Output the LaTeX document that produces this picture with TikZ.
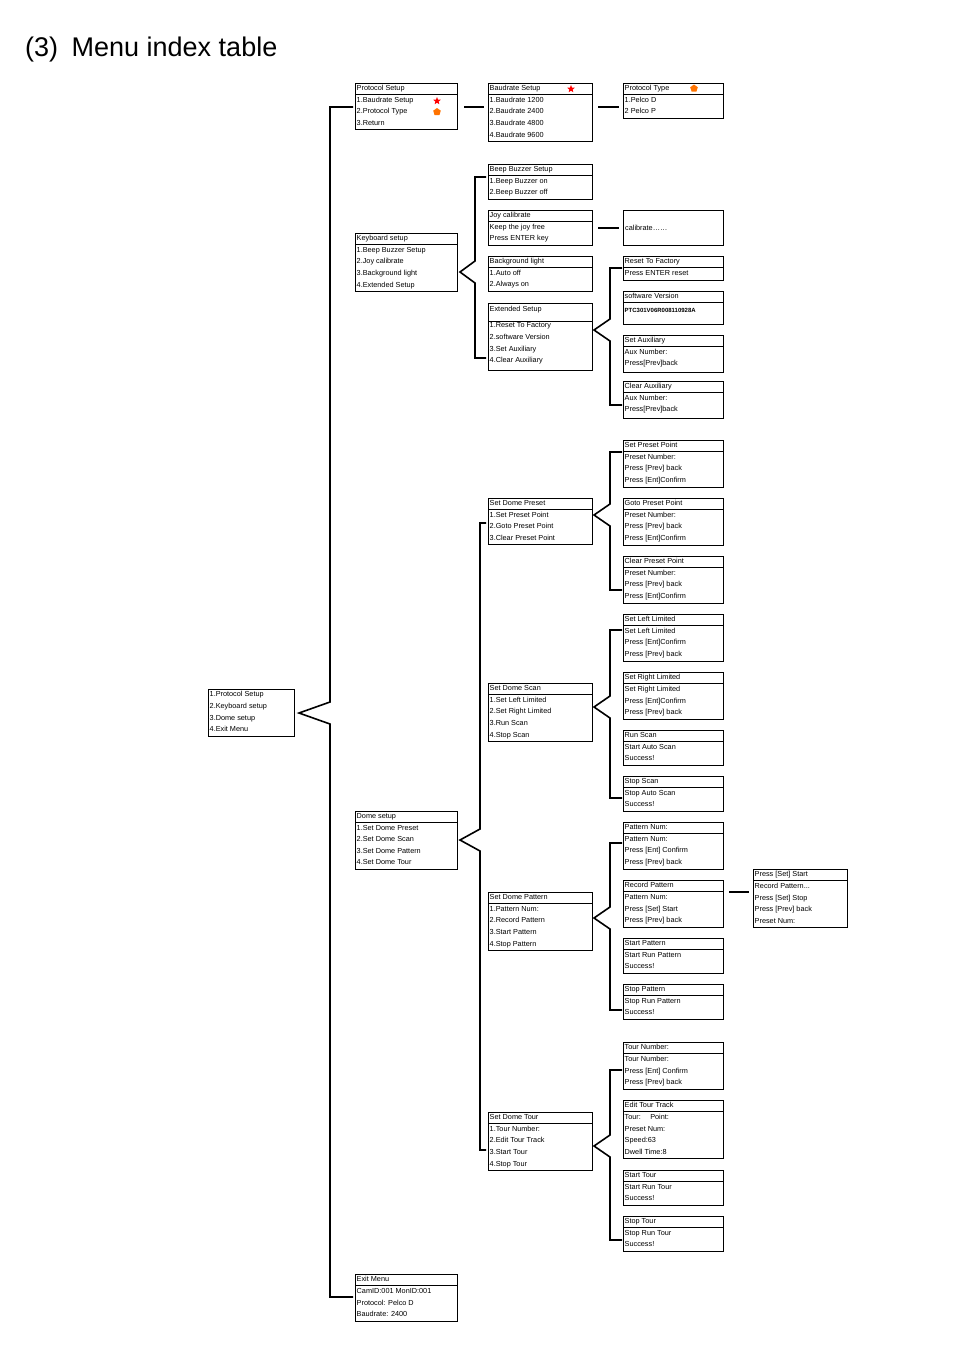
\documentclass[tikz,border=0pt]{standalone}
\usepackage{fontspec}
\setmainfont{Liberation Sans}
\usetikzlibrary{shapes.geometric}
\tikzset{
 boxs/.style={draw,line width=1.2pt,inner sep=0pt},
 txt/.style={inner sep=0pt,align=left,font=\fontsize{7.3}{11.6}\selectfont},
 brk/.style={line width=1.6pt},
 linkline/.style={line width=1.6pt},
 stb/.style={star,star points=5,star point ratio=2.3,fill=red,draw=none,inner sep=0pt,minimum size=8pt},
 pent/.style={regular polygon,regular polygon sides=5,fill=orange!90!red,draw=none,inner sep=0pt,minimum size=8pt}
}
\newcommand\mb[7]{%
 \node[boxs,minimum width=#4pt,minimum height=#5pt,anchor=north west] (#1) at (#2,#3) {};
 \ifnum#6>0 \draw[line width=1pt] (#2,#3+#6) -- ++(#4,0);\fi
 \node[txt,anchor=north west] (#1t) at (#2+1.5,#3+2.3) {#7};}
\newcommand\bk[6]{% xv ytop ybot xtip ymid xend
 \draw[brk] (#6,#2) -- (#1,#2) -- (#1,#5-11) -- (#4,#5) -- (#1,#5+11) -- (#1,#3) -- (#6,#3);}
\begin{document}
\begin{tikzpicture}[x=1pt,y=-1pt]
\useasboundingbox (0,0) rectangle (954,1350);
\node[anchor=west,font=\fontsize{27}{30}\selectfont,inner sep=0] (title) at (25,50) {(3)\enspace Menu index table};

\mb{root}{208}{689}{86}{47}{0}{1.Protocol Setup\\2.Keyboard setup\\3.Dome setup\\4.Exit Menu}
\mb{ps}{355}{83}{102}{46}{11}{Protocol Setup\\1.Baudrate Setup\\2.Protocol Type\\3.Return}
\mb{bs}{488}{83}{104}{58}{11}{Baudrate Setup\\1.Baudrate 1200\\2.Baudrate 2400\\3.Baudrate 4800\\4.Baudrate 9600}
\mb{pt}{623}{83}{100}{35}{11}{Protocol Type\\1.Pelco D\\2 Pelco P}
\node[stb] (s1) at (437,101) {};
\node[pent] (p1) at (437,112) {};
\node[stb] (s2) at (571,89) {};
\node[pent] (p2) at (694,88.5) {};

\mb{kb}{355}{233}{102}{58}{11}{Keyboard setup\\1.Beep Buzzer Setup\\2.Joy calibrate\\3.Background light\\4.Extended Setup}
\mb{bb}{488}{164}{104}{35}{11}{Beep Buzzer Setup\\1.Beep Buzzer on\\2.Beep Buzzer off}
\mb{jc}{488}{210}{104}{35}{11}{Joy calibrate\\Keep the joy free\\Press ENTER key}
\mb{cal}{623}{210}{100}{35}{0}{}
\node[txt,anchor=west] (calt) at (625,228) {calibrate\ldots\ldots};
\mb{bl}{488}{256}{104}{35}{11}{Background light\\1.Auto off\\2.Always on}
\mb{es}{488}{303}{104}{67}{18}{\\[-5.8pt]Extended Setup\\[5pt]1.Reset To Factory\\2.software Version\\3.Set Auxiliary\\4.Clear Auxiliary}
\mb{rf}{623}{256}{100}{24}{11}{Reset To Factory\\Press ENTER reset}
\mb{sv}{623}{291}{100}{33}{11}{software Version\\[2pt]{\bfseries\fontsize{6}{8}\selectfont PTC301V06R008110928A}}
\mb{sa}{623}{335}{100}{37}{11}{Set Auxiliary\\Aux Number:\\Press[Prev]back}
\mb{ca}{623}{381}{100}{37}{11}{Clear Auxiliary\\Aux Number:\\Press[Prev]back}

\mb{dp}{488}{498}{104}{46}{11}{Set Dome Preset\\1.Set Preset Point\\2.Goto Preset Point\\3.Clear Preset Point}
\mb{spp}{623}{440}{100}{47}{11}{Set Preset Point\\Preset Number:\\Press [Prev] back\\Press [Ent]Confirm}
\mb{gpp}{623}{498}{100}{47}{11}{Goto Preset Point\\Preset Number:\\Press [Prev] back\\Press [Ent]Confirm}
\mb{cpp}{623}{556}{100}{47}{11}{Clear Preset Point\\Preset Number:\\Press [Prev] back\\Press [Ent]Confirm}

\mb{dsc}{488}{683}{104}{58}{11}{Set Dome Scan\\1.Set Left Limited\\2.Set Right Limited\\3.Run Scan\\4.Stop Scan}
\mb{sll}{623}{614}{100}{47}{11}{Set Left Limited\\Set Left Limited\\Press [Ent]Confirm\\Press [Prev] back}
\mb{srl}{623}{672}{100}{47}{11}{Set Right Limited\\Set Right Limited\\Press [Ent]Confirm\\Press [Prev] back}
\mb{rs}{623}{730}{100}{35}{11}{Run Scan\\Start Auto Scan\\Success!}
\mb{ss}{623}{776}{100}{35}{11}{Stop Scan\\Stop Auto Scan\\Success!}

\mb{ds}{355}{811}{102}{58}{11}{Dome setup\\1.Set Dome Preset\\2.Set Dome Scan\\3.Set Dome Pattern\\4.Set Dome Tour}

\mb{dpat}{488}{892}{104}{58}{11}{Set Dome Pattern\\1.Pattern Num:\\2.Record Pattern\\3.Start Pattern\\4.Stop Pattern}
\mb{pn}{623}{822}{100}{47}{11}{Pattern Num:\\Pattern Num:\\Press [Ent] Confirm\\Press [Prev] back}
\mb{rp}{623}{880}{100}{47}{11}{Record Pattern\\Pattern Num:\\Press [Set] Start\\Press [Prev] back}
\mb{pss}{753}{869}{94}{58}{11}{Press [Set] Start\\Record Pattern...\\Press [Set] Stop\\Press [Prev] back\\Preset Num:}
\mb{sp}{623}{938}{100}{35}{11}{Start Pattern\\Start Run Pattern\\Success!}
\mb{stp}{623}{984}{100}{35}{11}{Stop Pattern\\Stop Run Pattern\\Success!}

\mb{dt}{488}{1112}{104}{58}{11}{Set Dome Tour\\1.Tour Number:\\2.Edit Tour Track\\3.Start Tour\\4.Stop Tour}
\mb{tn}{623}{1042}{100}{47}{11}{Tour Number:\\Tour Number:\\Press [Ent] Confirm\\Press [Prev] back}
\mb{et}{623}{1100}{100}{58}{11}{Edit Tour Track\\Tour:\quad\ Point:\\Preset Num:\\Speed:63\\Dwell Time:8}
\mb{st}{623}{1170}{100}{35}{11}{Start Tour\\Start Run Tour\\Success!}
\mb{sto}{623}{1216}{100}{35}{11}{Stop Tour\\Stop Run Tour\\Success!}

\mb{em}{355}{1274}{102}{47}{11}{Exit Menu\\CamID:001 MonID:001\\Protocol: Pelco D\\Baudrate: 2400}

% brackets
\bk{330}{107}{1297}{299}{713}{353}
\bk{475}{177}{358}{460}{272}{486}
\bk{610}{268}{405}{594}{330}{622}
\bk{480}{523}{1150}{460}{840}{486}
\bk{610}{452}{590}{594}{515}{622}
\bk{610}{630}{798}{594}{707}{622}
\bk{610}{843}{1010}{594}{918}{622}
\bk{610}{1070}{1240}{594}{1146}{622}
% links
\draw[linkline] ([xshift=6pt]ps.east |- 0,107) -- ([xshift=-4pt]bs.west |- 0,107);
\draw[linkline] ([xshift=5pt]bs.east |- 0,107) -- ([xshift=-4pt]pt.west |- 0,107);
\draw[linkline] ([xshift=5pt]jc.east) -- ([xshift=-4pt]cal.west);
\draw[linkline] ([xshift=5pt]rp.east |- 0,892) -- ([xshift=-4pt]pss.west |- 0,892);
\end{tikzpicture}
\end{document}
